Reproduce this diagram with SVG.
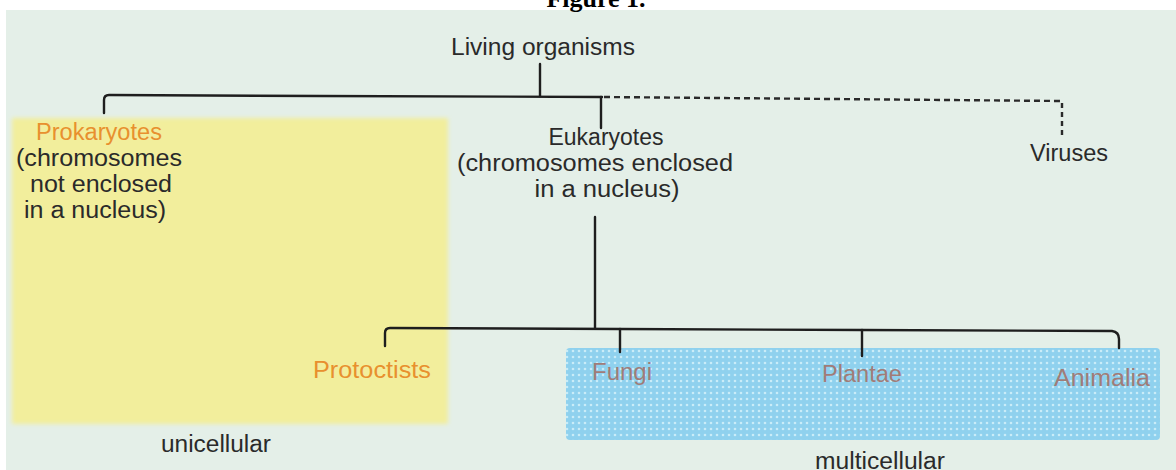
<svg xmlns="http://www.w3.org/2000/svg" width="1176" height="470" viewBox="0 0 1176 470">
<defs>
<style>
.t{font-family:"Liberation Sans",Arial,sans-serif;font-size:23px;fill:#2a2a2a;text-anchor:middle}
.o{fill:#e8902e}
.k{fill:#a07c78}
.ln{fill:none;stroke:#1e1e1e;stroke-width:2.4;stroke-linecap:round;stroke-linejoin:round}
.ds{fill:none;stroke:#2a2a2a;stroke-width:2.4;stroke-dasharray:6 4}
</style>
<pattern id="dots" width="6" height="6" patternUnits="userSpaceOnUse">
<rect width="6" height="6" fill="#8fd1ee"/>
<circle cx="3" cy="3" r="1.3" fill="#c9ecf8"/>
</pattern>
<filter id="soft" x="-5%" y="-5%" width="110%" height="110%"><feGaussianBlur stdDeviation="2"/></filter>
</defs>
<rect width="1176" height="470" fill="#ffffff"/>
<rect x="6" y="10" width="1170" height="460" fill="#e4efe8"/>
<text x="596" y="7" style="font-family:'Liberation Serif',serif;font-weight:bold;font-size:26px;text-anchor:middle;fill:#000">Figure 1.</text>
<rect x="12" y="118" width="436" height="306" fill="#f2ee9c" filter="url(#soft)"/>
<rect x="566" y="348" width="594" height="92" rx="4" fill="url(#dots)"/>
<g id="connectors">
<path class="ln" d="M540,64 V96"/>
<path class="ln" d="M104,113 V100 Q104,95 109,95 L320,96 L602,97"/>
<path class="ln" d="M601,97 V128"/>
<path class="ds" d="M604,97 L1060,101"/>
<path class="ds" d="M1062,103 V135" style="stroke-dasharray:5 4"/>
<path class="ln" d="M595,217 V328"/>
<path class="ln" d="M385,346 V333 Q385,328 390,328 L620,329 L862,330 L1112,331 Q1119,332 1119,339 V348"/>
<path class="ln" d="M620,329 V352"/>
<path class="ln" d="M862,330 V356"/>
</g>
<g id="living"><text class="t" x="543" y="55" textLength="184" lengthAdjust="spacingAndGlyphs">Living organisms</text></g>
<g id="prokaryotes">
<text class="t o" x="99" y="140" textLength="126" lengthAdjust="spacingAndGlyphs">Prokaryotes</text>
<text class="t" x="99" y="166" textLength="166" lengthAdjust="spacingAndGlyphs">(chromosomes</text>
<text class="t" x="101" y="192" textLength="142" lengthAdjust="spacingAndGlyphs">not enclosed</text>
<text class="t" x="95" y="218" textLength="142" lengthAdjust="spacingAndGlyphs">in a nucleus)</text>
</g>
<g id="eukaryotes">
<text class="t" x="606" y="145" textLength="115" lengthAdjust="spacingAndGlyphs">Eukaryotes</text>
<text class="t" x="595" y="171" textLength="276" lengthAdjust="spacingAndGlyphs">(chromosomes enclosed</text>
<text class="t" x="607" y="197" textLength="145" lengthAdjust="spacingAndGlyphs">in a nucleus)</text>
</g>
<g id="viruses"><text class="t" x="1069" y="161" textLength="78" lengthAdjust="spacingAndGlyphs">Viruses</text></g>
<g id="protoctists"><text class="t o" x="372" y="378" textLength="118" lengthAdjust="spacingAndGlyphs">Protoctists</text></g>
<g id="fungi"><text class="t k" x="622" y="380" textLength="60" lengthAdjust="spacingAndGlyphs">Fungi</text></g>
<g id="plantae"><text class="t k" x="862" y="382" textLength="80" lengthAdjust="spacingAndGlyphs">Plantae</text></g>
<g id="animalia"><text class="t k" x="1102" y="386" textLength="96" lengthAdjust="spacingAndGlyphs">Animalia</text></g>
<g id="unicellular"><text class="t" x="216" y="452" textLength="110" lengthAdjust="spacingAndGlyphs">unicellular</text></g>
<g id="multicellular"><text class="t" x="880" y="469" textLength="130" lengthAdjust="spacingAndGlyphs">multicellular</text></g>
</svg>
